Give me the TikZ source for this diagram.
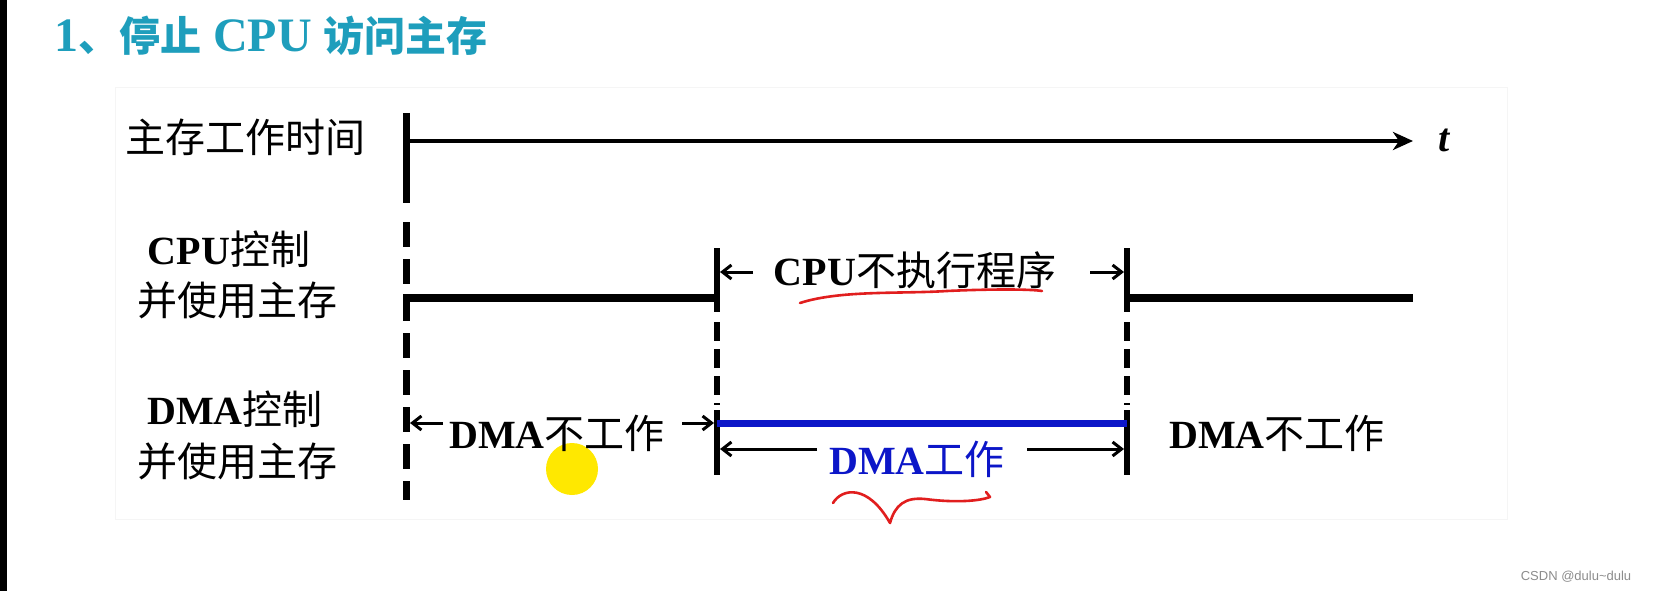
\documentclass[tikz,border=0pt]{standalone}
\usepackage{fontspec}
\setmainfont{Liberation Serif}
\newfontfamily\cjk{Noto Sans CJK SC}
\newfontfamily\wmfont{Liberation Sans}
\usetikzlibrary{arrows.meta}
\definecolor{titleteal}{RGB}{30,158,188}
\definecolor{dmablue}{RGB}{12,22,200}
\definecolor{markred}{RGB}{225,30,30}
\definecolor{hiyellow}{RGB}{255,232,0}
\newcommand{\zh}[1]{{\cjk #1}}
\tikzset{
  lbl/.style={inner sep=0pt, font=\fontsize{40}{46}\selectfont},
  axisline/.style={line width=4.5pt, -{Stealth[length=20pt,width=18pt,inset=6pt]}},
  sigline/.style={line width=7.5pt},
  mainsolid/.style={line width=7pt},
  maindash/.style={line width=7pt, dash pattern=on 25pt off 12pt},
  ticksolid/.style={line width=6pt},
  tickdash/.style={line width=6pt, dash pattern=on 19pt off 8pt},
  dmaline/.style={line width=7pt, draw=dmablue},
  dimarrow/.style={line width=3pt, -{Straight Barb[length=9pt,width=14pt]}},
  handmark/.style={draw=markred, line width=2.6pt, line cap=round, line join=round},
}
\begin{document}
\begin{tikzpicture}[x=1pt,y=-1pt]
\useasboundingbox (0,0) rectangle (1654,591);
\fill[white] (0,0) rectangle (1654,591);
\fill[black] (0,0) rectangle (7,591);
\draw[black!4, line width=1pt] (115,88) rectangle (1507,519);

% title
\node[inner sep=0pt, text=titleteal, font=\fontsize{48}{54}\selectfont\bfseries] (title) at (271,36)
  {1{\cjk\fontsize{41}{46}\selectfont 、停止} CPU {\cjk\fontsize{41}{46}\selectfont 访问主存}};

% row labels
\node[lbl] (lmem) at (245,137) {\zh{主存工作时间}};
\node[lbl] (lcpu1) at (229,249) {\textbf{CPU}\zh{控制}};
\node[lbl] (lcpu2) at (237,300) {\zh{并使用主存}};
\node[lbl] (ldma1) at (235,409) {\textbf{DMA}\zh{控制}};
\node[lbl] (ldma2) at (237,461) {\zh{并使用主存}};

% key coordinates
\coordinate (m0) at (406,113);
\coordinate (m1) at (406,203);
\coordinate (m2) at (406,222);
\coordinate (m3) at (406,500);
\coordinate (ax0) at (403,141);
\coordinate (ax1) at (1413,141);
\coordinate (a0) at (717,248);
\coordinate (a1) at (717,312);
\coordinate (a2) at (717,322);
\coordinate (a3) at (717,405);
\coordinate (a4) at (717,410);
\coordinate (a5) at (717,475);
\coordinate (b0) at (1127,248);
\coordinate (b1) at (1127,312);
\coordinate (b2) at (1127,322);
\coordinate (b3) at (1127,405);
\coordinate (b4) at (1127,410);
\coordinate (b5) at (1127,475);
\coordinate (c0) at (403,298);
\coordinate (c1) at (717,298);
\coordinate (c2) at (1127,298);
\coordinate (c3) at (1413,298);
\coordinate (d0) at (717,423);
\coordinate (d1) at (1127,423);

% yellow pointer highlight
\fill[hiyellow] (572,469) circle (26pt);

% main time line (start)
\draw[mainsolid] (m0) -- (m1);
\draw[maindash] (m2) -- (m3);
\draw[axisline] (ax0) -- (ax1);
\node[inner sep=0pt, font=\fontsize{40}{46}\selectfont\bfseries\itshape] (tlab) at (1444,140) {t};

% ticks
\draw[ticksolid] (a0) -- (a1);
\draw[tickdash] (a2) -- (a3);
\draw[ticksolid] (a4) -- (a5);
\draw[ticksolid] (b0) -- (b1);
\draw[tickdash] (b2) -- (b3);
\draw[ticksolid] (b4) -- (b5);

% CPU signal
\draw[sigline] (c0) -- (c1);
\draw[sigline] (c2) -- (c3);

% DMA signal
\draw[dmaline] (d0) -- (d1);

% CPU not executing
\node[lbl] (cpuno) at (915,270) {\textbf{CPU}\zh{不执行程序}};
\coordinate (p1) at (753,272);
\coordinate (p1t) at (720,272);
\coordinate (p2) at (1090,272);
\coordinate (p2t) at (1124,272);
\draw[dimarrow] (p1) -- (p1t);
\draw[dimarrow] (p2) -- (p2t);

% DMA idle (left)
\node[lbl] (dmaidle1) at (557,433) {\textbf{DMA}\zh{不工作}};
\coordinate (q1) at (443,423);
\coordinate (q1t) at (410,423);
\coordinate (q2) at (682,423);
\coordinate (q2t) at (714,423);
\draw[dimarrow] (q1) -- (q1t);
\draw[dimarrow] (q2) -- (q2t);

% DMA working
\node[lbl, text=dmablue] (dmawork) at (917,459) {\textbf{DMA}\zh{工作}};
\coordinate (r1) at (817,449);
\coordinate (r1t) at (720,449);
\coordinate (r2) at (1027,449);
\coordinate (r2t) at (1124,449);
\draw[dimarrow] (r1) -- (r1t);
\draw[dimarrow] (r2) -- (r2t);

% DMA idle (right)
\node[lbl] (dmaidle2) at (1277,433) {\textbf{DMA}\zh{不工作}};

% handwritten red marks
\draw[handmark] (800,303) .. controls (840,290) and (900,294) .. (947,291)
  .. controls (990,289) and (1030,289) .. (1042,291);
\draw[handmark] (833,503) .. controls (842,488) and (868,484) .. (890,523)
  .. controls (895,505) and (905,497) .. (925,499)
  .. controls (955,503) and (980,501) .. (990,497) -- (986,492);

% watermark
\node[inner sep=0pt, text=black!45, font=\wmfont\fontsize{13}{15}\selectfont] (wm) at (1576,577) {CSDN @dulu\textasciitilde dulu};
\end{tikzpicture}
\end{document}
